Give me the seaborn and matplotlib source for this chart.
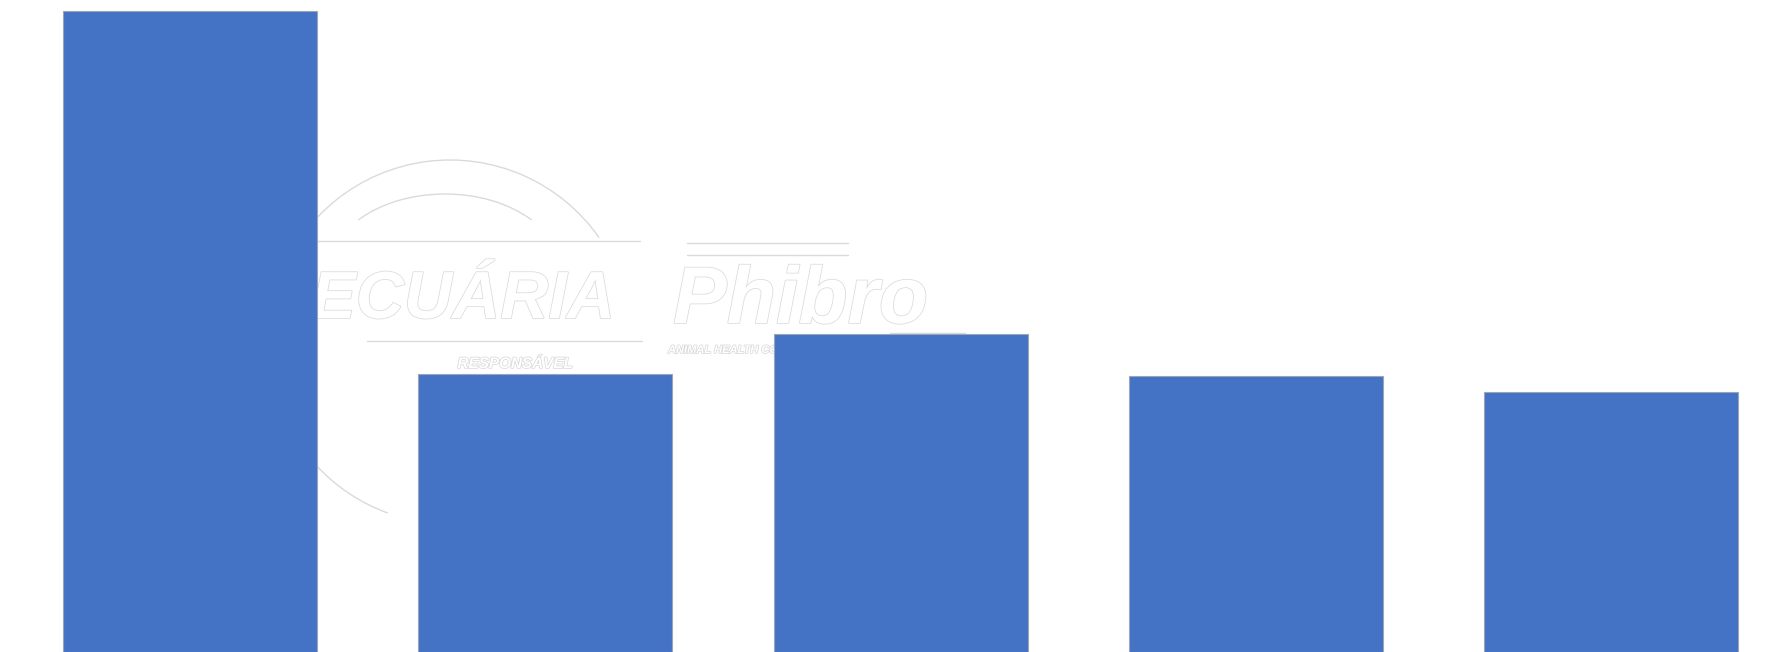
import matplotlib
matplotlib.use("Agg")
import matplotlib.pyplot as plt
import matplotlib.patheffects as pe
from matplotlib.patches import Arc
from matplotlib.transforms import IdentityTransform
import seaborn as sns

# bar heights, relative to the tallest one (=100)
categories = ["1", "2", "3", "4", "5"]
values = [100.0, 43.4, 49.6, 43.1, 40.6]

BAR_COLOR = "#4472C4"
MARK_COLOR = "#dadada"

sns.set_theme(style="white")
plt.rcParams["font.family"] = ["Liberation Sans", "DejaVu Sans"]

fig = plt.figure(figsize=(17.67, 6.52), dpi=100)
ax = fig.add_axes([0, 0, 1, 1])
ax.set_facecolor("white")

sns.barplot(
    x=categories,
    y=values,
    color=BAR_COLOR,
    saturation=1,
    width=0.715,
    edgecolor="#9aa5b8",
    linewidth=0.8,
    ax=ax,
    zorder=3,
)
ax.set_xlim(-0.535, 4.439)
ax.set_ylim(0, 101.7)
ax.axis("off")

# faint watermark behind the bars (white text with light grey outline)
outline = [pe.Stroke(linewidth=1.1, foreground=MARK_COLOR), pe.Normal()]


def px(x, y):
    # figure pixel coords (top-left origin) -> axes fraction
    return x / 1767, 1 - y / 652


ax.text(*px(615, 318), "PECUÁRIA", transform=ax.transAxes, ha="right",
        va="baseline", fontsize=48, fontweight="bold", fontstyle="italic",
        color="white", path_effects=outline, zorder=1)
ax.text(*px(515, 364), "RESPONSÁVEL", transform=ax.transAxes, ha="center",
        va="center", fontsize=11, fontweight="bold", fontstyle="italic",
        color="white", path_effects=outline, zorder=1)
ax.text(*px(673, 323), "Phibro", transform=ax.transAxes, ha="left",
        va="baseline", fontsize=58, fontweight="bold", fontstyle="italic",
        color="white", path_effects=outline, zorder=1)
ax.text(*px(668, 350), "ANIMAL HEALTH CORPORATION", transform=ax.transAxes,
        ha="left", va="center", fontsize=8, fontweight="bold",
        fontstyle="italic", color="white", path_effects=outline, zorder=1)

# rules of the logo
for x0, x1, y in [(300, 640, 241), (367, 642, 341), (687, 848, 243),
                  (687, 848, 255), (890, 965, 333)]:
    (a, b), (c, _) = px(x0, y), px(x1, y)
    ax.plot([a, c], [b, b], transform=ax.transAxes, color=MARK_COLOR,
            lw=1, zorder=1)

# circle of the logo, in pixel space
for t1, t2 in [(35, 160), (195, 250)]:
    ax.add_patch(Arc((450, 652 - 342), 364, 364, theta1=t1, theta2=t2,
                     transform=IdentityTransform(), color=MARK_COLOR,
                     lw=1, zorder=1))
ax.add_patch(Arc((445, 652 - 270), 230, 152, theta1=30, theta2=150,
                 transform=IdentityTransform(), color=MARK_COLOR,
                 lw=1, zorder=1))

fig.savefig("out.png", dpi=100, facecolor="white")
plt.close(fig)
